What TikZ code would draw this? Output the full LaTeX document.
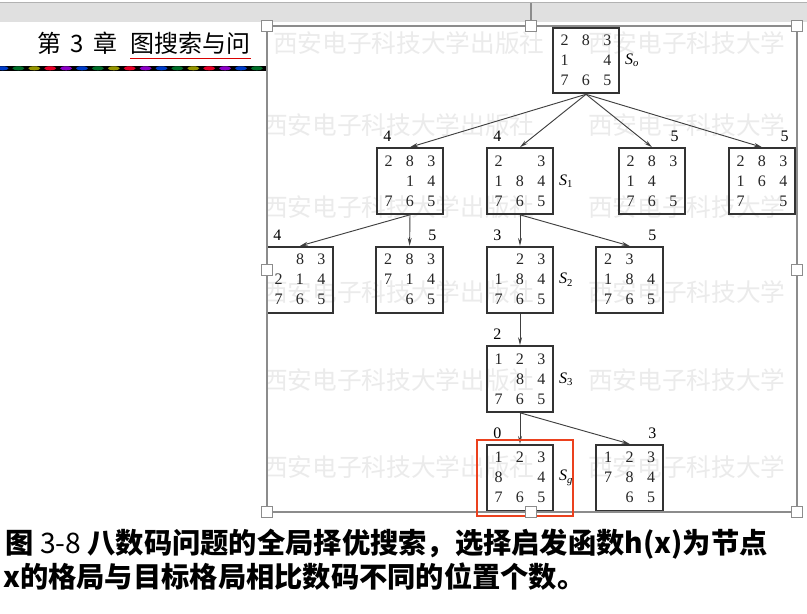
\documentclass[tikz,border=0pt]{standalone}
\usepackage{fontspec}
\setmainfont{Liberation Serif}
\newfontfamily\cjk{Noto Sans CJK SC}
\usetikzlibrary{arrows.meta,positioning}

\definecolor{framegray}{RGB}{140,140,140}
\definecolor{markred}{RGB}{235,65,30}
\definecolor{rb0}{RGB}{0,60,200}
\definecolor{rb1}{RGB}{0,110,40}
\definecolor{rb2}{RGB}{150,150,0}
\definecolor{rb3}{RGB}{230,0,40}
\definecolor{rb4}{RGB}{140,0,200}

\newcommand{\pcell}[1]{\makebox[16.1pt]{#1}}
\newcommand{\puz}[9]{\pcell{#1}\pcell{#2}\pcell{#3}\\\pcell{#4}\pcell{#5}\pcell{#6}\\\pcell{#7}\pcell{#8}\pcell{#9}}

\tikzset{
  board/.style={draw=black!80, line width=1.5pt, minimum width=49.8pt, minimum height=49.2pt,
    inner sep=0pt, align=center, text=black!85, font=\fontsize{12}{15}\selectfont},
  hval/.style={font=\fontsize{12}{14}\selectfont, inner sep=1pt},
  hl/.style={label={[hval, xshift=-17pt, label distance=3pt]above:#1}},
  hr/.style={label={[hval, xshift=17pt, label distance=3pt]above:#1}},
  sname/.style={font=\fontsize{12}{14}\selectfont, inner sep=1pt},
  arr/.style={-{Stealth[length=6pt,width=3pt]}, draw=black!75, line width=0.7pt},
  handle/.style={draw=framegray, fill=white, line width=1.1pt, minimum size=8.5pt, inner sep=0pt},
  wm/.style={text=black!8, font=\cjk\fontsize{18.5}{20}\selectfont, inner sep=0pt, anchor=west},
  capline/.style={anchor=base west, inner sep=0pt, font=\cjk\bfseries\fontsize{21.2}{24}\selectfont},
}

\begin{document}
\begin{tikzpicture}[x=0.75pt, y=-0.75pt]
\useasboundingbox (0,0) rectangle (807,614);
\fill[white] (0,0) rectangle (807,614);

% slide behind the picture
\fill[black!12] (0,2) rectangle (807,22);
\draw[black!30, line width=0.6pt] (0,2) -- (807,2);
\node[anchor=base west, inner sep=0pt, font=\cjk\fontsize{18}{20}\selectfont] (chap) at (37,52) {第\hspace{7pt}3\hspace{7pt}章};
\node[anchor=base west, inner sep=0pt, font=\cjk\fontsize{18}{20}\selectfont] (topic) at (130,52) {图搜索与问};
\draw[red!85!black, line width=0.8pt] ([yshift=-5pt]topic.base west) -- ([yshift=-5pt]topic.base east);
\fill[black] (0,65.5) rectangle (266,71);
\foreach \i in {0,...,16} {
  \pgfmathtruncatemacro\k{mod(\i,5)}
  \fill[rb\k] (2.5+15.9*\i,68.3) ellipse [x radius=4.5pt, y radius=1.5pt];
}

% picture area with watermark
\fill[white] (267,26) rectangle (797,512);
\begin{scope}
\clip (267,26) rectangle (797,512);
\foreach \y/\xa in {43/273, 125/263, 207/263, 292/263, 380/263, 467/263} {
  \node[wm] (wa\y) at (\xa,\y) {西安电子科技大学出版社};
  \node[wm] (wb\y) at (588,\y) {西安电子科技大学};
}
\end{scope}

% search tree
\node[board] (s0) at (586,60.5) {\puz{2}{8}{3}{1}{}{4}{7}{6}{5}};
\node[board, hl=4] (a1) at (410,181) {\puz{2}{8}{3}{}{1}{4}{7}{6}{5}};
\node[board, hl=4] (s1) at (520,181) {\puz{2}{}{3}{1}{8}{4}{7}{6}{5}};
\node[board, hr=5] (a3) at (652,181) {\puz{2}{8}{3}{1}{4}{}{7}{6}{5}};
\node[board, hr=5] (a4) at (762,181) {\puz{2}{8}{3}{1}{6}{4}{7}{}{5}};
\node[board, hl=4] (b1) at (300,279.7) {\puz{}{8}{3}{2}{1}{4}{7}{6}{5}};
\node[board, hr=5] (b2) at (409.6,279.7) {\puz{2}{8}{3}{7}{1}{4}{}{6}{5}};
\node[board, hl=3] (s2) at (520,279.7) {\puz{}{2}{3}{1}{8}{4}{7}{6}{5}};
\node[board, hr=5] (b4) at (629.6,279.7) {\puz{2}{3}{}{1}{8}{4}{7}{6}{5}};
\node[board, hl=2] (s3) at (520,379) {\puz{1}{2}{3}{}{8}{4}{7}{6}{5}};
\node[board, hl=0] (sg) at (520,477.7) {\puz{1}{2}{3}{8}{}{4}{7}{6}{5}};
\node[board, hr=3] (c2) at (629.6,477.7) {\puz{1}{2}{3}{7}{8}{4}{}{6}{5}};

\node[sname, right=2.5pt of s0] (s0n) {\textit{S}\textsubscript{\textit{o}}};
\node[sname, right=2.5pt of s1] (s1n) {\textit{S}\textsubscript{1}};
\node[sname, right=2.5pt of s2] (s2n) {\textit{S}\textsubscript{2}};
\node[sname, right=2.5pt of s3] (s3n) {\textit{S}\textsubscript{3}};
\node[sname, right=2.5pt of sg] (sgn) {\textit{S}\textsubscript{\textit{g}}};

\draw[arr] (s0.south) -- (a1.north);
\draw[arr] (s0.south) -- (s1.north);
\draw[arr] (s0.south) -- (a3.north);
\draw[arr] (s0.south) -- (a4.north);
\draw[arr] (a1.south) -- (b1.north);
\draw[arr] (a1.south) -- (b2.north);
\draw[arr] (s1.south) -- (s2.north);
\draw[arr] (s1.south) -- (b4.north);
\draw[arr] (s2.south) -- (s3.north);
\draw[arr] (s3.south) -- (sg.north);
\draw[arr] (s3.south) -- (c2.north);

% selection frame and goal mark
\draw[framegray, line width=1.5pt] (267,26) rectangle (797,512);
\draw[markred, line width=1.5pt] (476.7,440.3) rectangle (572.8,515.7);
\coordinate (rot) at (531,3);
\foreach \hx/\hy [count=\k] in {267/26, 531/26, 797/26, 267/270, 797/270, 267/512, 531/512, 797/512}
  \node[handle] (h\k) at (\hx,\hy) {};
\draw[framegray, line width=1.5pt] (rot) -- (h2);

% caption
\node[capline] (cap1) at (5,553) {图 {\mdseries 3-8} 八数码问题的全局择优搜索，选择启发函数h(x)为节点};
\node[capline] (cap2) at (3,587) {x的格局与目标格局相比数码不同的位置个数。};
\end{tikzpicture}
\end{document}
